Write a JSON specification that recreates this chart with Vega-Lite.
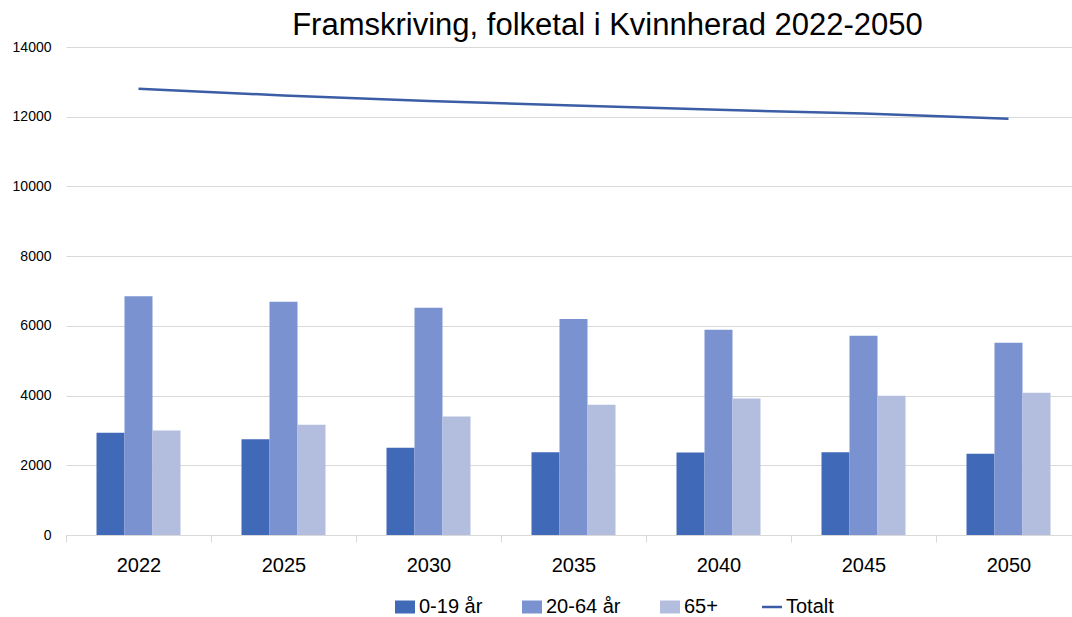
{
  "$schema": "https://vega.github.io/schema/vega-lite/v6.json",
  "autosize": {"type": "none"},
  "width": 1015,
  "height": 488,
  "padding": {"left": 66, "top": 47, "right": 0, "bottom": 82},
  "background": "white",
  "title": {
    "text": "Framskriving, folketal i Kvinnherad 2022-2050",
    "font": "Liberation Sans",
    "fontSize": 31,
    "fontWeight": "normal",
    "color": "#000000",
    "anchor": "middle",
    "dx": 34,
    "offset": -2
  },
  "config": {
    "view": {"stroke": null},
    "font": "Liberation Sans"
  },
  "datasets": {
    "bars": [
      {"year": "2022", "group": "0-19 år", "value": 2931},
      {"year": "2022", "group": "20-64 år", "value": 6848},
      {"year": "2022", "group": "65+", "value": 2996},
      {"year": "2025", "group": "0-19 år", "value": 2744},
      {"year": "2025", "group": "20-64 år", "value": 6695},
      {"year": "2025", "group": "65+", "value": 3161},
      {"year": "2030", "group": "0-19 år", "value": 2500},
      {"year": "2030", "group": "20-64 år", "value": 6523},
      {"year": "2030", "group": "65+", "value": 3399},
      {"year": "2035", "group": "0-19 år", "value": 2376},
      {"year": "2035", "group": "20-64 år", "value": 6198},
      {"year": "2035", "group": "65+", "value": 3736},
      {"year": "2040", "group": "0-19 år", "value": 2365},
      {"year": "2040", "group": "20-64 år", "value": 5891},
      {"year": "2040", "group": "65+", "value": 3917},
      {"year": "2045", "group": "0-19 år", "value": 2376},
      {"year": "2045", "group": "20-64 år", "value": 5718},
      {"year": "2045", "group": "65+", "value": 3994},
      {"year": "2050", "group": "0-19 år", "value": 2328},
      {"year": "2050", "group": "20-64 år", "value": 5517},
      {"year": "2050", "group": "65+", "value": 4080}
    ],
    "total": [
      {"year": "2022", "group": "Totalt", "value": 12800},
      {"year": "2025", "group": "Totalt", "value": 12610},
      {"year": "2030", "group": "Totalt", "value": 12450},
      {"year": "2035", "group": "Totalt", "value": 12320},
      {"year": "2040", "group": "Totalt", "value": 12200},
      {"year": "2045", "group": "Totalt", "value": 12090},
      {"year": "2050", "group": "Totalt", "value": 11940}
    ]
  },
  "encoding": {
    "x": {
      "field": "year",
      "type": "nominal",
      "scale": {"paddingInner": 0, "paddingOuter": 0},
      "axis": {
        "title": null,
        "labelAngle": 0,
        "labelFontSize": 20,
        "labelColor": "#000000",
        "labelPadding": 13,
        "domainColor": "#d9d9d9",
        "tickColor": "#d9d9d9",
        "tickSize": 7,
        "tickBand": "extent",
        "grid": false
      }
    },
    "y": {
      "field": "value",
      "type": "quantitative",
      "scale": {"domain": [0, 14000]},
      "axis": {
        "title": null,
        "values": [0, 2000, 4000, 6000, 8000, 10000, 12000, 14000],
        "format": "d",
        "labelFontSize": 14,
        "labelColor": "#000000",
        "labelPadding": 15,
        "domain": false,
        "ticks": false,
        "gridColor": "#d9d9d9",
        "gridWidth": 1
      }
    },
    "color": {
      "field": "group",
      "type": "nominal",
      "scale": {
        "domain": ["0-19 år", "20-64 år", "65+", "Totalt"],
        "range": ["#4069b8", "#7a92d0", "#b3bedf", "#3a5da5"]
      },
      "legend": {
        "title": null,
        "orient": "none",
        "legendX": 329,
        "legendY": 550,
        "direction": "horizontal",
        "padding": 0,
        "labelFontSize": 20,
        "labelColor": "#000000",
        "labelOffset": 4,
        "columnPadding": 39,
        "symbolSize": 400,
        "symbolType": "M-1,-0.65L1,-0.65L1,0.65L-1,0.65Z",
        "symbolOpacity": 1,
        "encode": {
          "symbols": {
            "update": {
              "shape": {"signal": "datum.value === 'Totalt' ? 'stroke' : 'M-1,-0.65L1,-0.65L1,0.65L-1,0.65Z'"},
              "stroke": {"signal": "datum.value === 'Totalt' ? '#3a5da5' : 'transparent'"},
              "strokeWidth": {"signal": "datum.value === 'Totalt' ? 2.5 : 0"}
            }
          }
        }
      }
    }
  },
  "layer": [
    {
      "data": {"name": "bars"},
      "transform": [{"filter": "datum.group === '0-19 år'"}],
      "mark": {"type": "bar", "width": {"band": 0.1931}, "xOffset": -28}
    },
    {
      "data": {"name": "bars"},
      "transform": [{"filter": "datum.group === '20-64 år'"}],
      "mark": {"type": "bar", "width": {"band": 0.1931}, "xOffset": 0}
    },
    {
      "data": {"name": "bars"},
      "transform": [{"filter": "datum.group === '65+'"}],
      "mark": {"type": "bar", "width": {"band": 0.1931}, "xOffset": 28}
    },
    {
      "data": {"name": "total"},
      "mark": {"type": "line", "strokeWidth": 2.5}
    }
  ]
}
